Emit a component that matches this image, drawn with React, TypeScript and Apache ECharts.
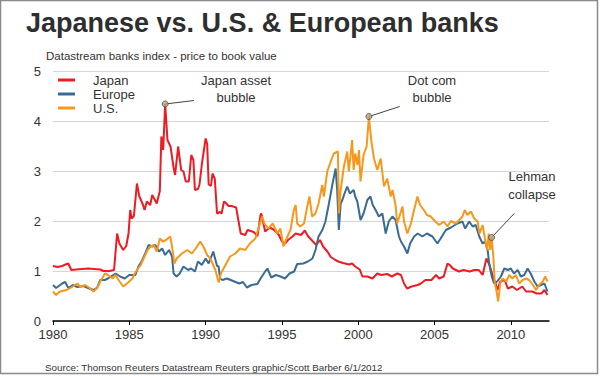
import React, { useEffect, useRef } from "react";
import * as echarts from "echarts";

const seriesNames = ["Japan", "Europe", "U.S."];
const seriesColors = ["#ec1c24", "#3a6b93", "#f7981d"];

const japan: [number, number][] = [
  [1980.0, 1.1], [1980.3, 1.08], [1980.6, 1.1], [1980.9, 1.14], [1981.0, 1.15], [1981.2, 1.02], [1981.5, 1.03],
  [1981.9, 1.04], [1982.3, 1.05], [1982.7, 1.04], [1983.1, 1.03], [1983.3, 1.0], [1983.7, 1.0], [1984.0, 1.02],
  [1984.2, 1.75], [1984.35, 1.55], [1984.6, 1.42], [1984.8, 1.5], [1984.95, 1.75], [1985.06, 2.22], [1985.15, 2.05],
  [1985.3, 2.1], [1985.5, 2.75], [1985.65, 2.5], [1985.9, 2.32], [1986.0, 2.22], [1986.15, 2.39], [1986.37, 2.32],
  [1986.5, 2.52], [1986.8, 2.35], [1987.0, 2.6], [1987.1, 3.69], [1987.22, 3.42], [1987.35, 4.34], [1987.5, 3.62],
  [1987.7, 3.49], [1987.9, 3.07], [1988.0, 2.92], [1988.2, 3.49], [1988.4, 3.02], [1988.55, 2.99], [1988.7, 2.79],
  [1988.9, 2.79], [1989.06, 3.32], [1989.2, 3.22], [1989.3, 2.62], [1989.5, 2.64], [1989.6, 2.73], [1989.76, 3.15],
  [1990.0, 3.65], [1990.1, 3.55], [1990.2, 2.73], [1990.35, 2.7], [1990.45, 2.95], [1990.6, 2.85], [1990.75, 2.15],
  [1990.95, 2.18], [1991.05, 2.15], [1991.2, 2.39], [1991.3, 2.37], [1991.5, 2.3], [1991.7, 2.3], [1992.0, 2.27],
  [1992.3, 1.75], [1992.6, 1.72], [1992.75, 1.82], [1993.15, 1.78], [1993.4, 1.7], [1993.6, 2.12], [1993.65, 2.15],
  [1993.9, 1.79], [1994.2, 1.87], [1994.5, 1.82], [1994.8, 1.72], [1995.0, 1.59], [1995.2, 1.55], [1995.4, 1.62],
  [1995.7, 1.69], [1995.9, 1.75], [1996.25, 1.72], [1996.5, 1.81], [1996.7, 1.7], [1997.0, 1.6], [1997.25, 1.52],
  [1997.5, 1.62], [1997.7, 1.49], [1998.0, 1.38], [1998.2, 1.28], [1998.5, 1.22], [1998.7, 1.19], [1999.0, 1.16],
  [1999.4, 1.13], [1999.6, 1.15], [1999.8, 1.09], [2000.1, 1.03], [2000.27, 0.89], [2000.6, 0.89], [2000.93, 0.85],
  [2001.25, 0.95], [2001.5, 0.92], [2001.9, 0.94], [2002.2, 0.89], [2002.56, 0.95], [2002.8, 0.92], [2003.0, 0.75],
  [2003.2, 0.65], [2003.5, 0.69], [2003.9, 0.72], [2004.1, 0.75], [2004.4, 0.82], [2004.8, 0.82], [2005.1, 0.92],
  [2005.3, 0.85], [2005.6, 0.89], [2005.85, 1.15], [2006.0, 1.12], [2006.2, 1.05], [2006.6, 0.99], [2006.9, 1.02],
  [2007.3, 0.99], [2007.6, 1.02], [2007.9, 1.02], [2008.15, 0.92], [2008.4, 1.25], [2008.6, 1.12], [2008.8, 0.92],
  [2009.0, 0.75], [2009.13, 0.62], [2009.3, 0.79], [2009.6, 0.82], [2009.8, 0.65], [2010.1, 0.69], [2010.4, 0.62],
  [2010.75, 0.69], [2011.0, 0.59], [2011.4, 0.59], [2011.7, 0.55], [2012.0, 0.55], [2012.2, 0.62], [2012.4, 0.52],
];

const europe: [number, number][] = [
  [1980.0, 0.72], [1980.2, 0.66], [1980.6, 0.75], [1980.8, 0.78], [1981.0, 0.66], [1981.3, 0.72], [1981.6, 0.68],
  [1982.0, 0.7], [1982.3, 0.66], [1982.65, 0.62], [1982.9, 0.67], [1983.1, 0.82], [1983.4, 0.82], [1983.6, 0.85],
  [1984.1, 0.95], [1984.4, 0.89], [1984.7, 0.85], [1985.0, 0.92], [1985.4, 0.92], [1985.6, 1.09], [1985.8, 1.19],
  [1986.0, 1.32], [1986.26, 1.52], [1986.5, 1.49], [1986.7, 1.52], [1986.95, 1.39], [1987.15, 1.45], [1987.35, 1.32],
  [1987.6, 1.42], [1987.8, 1.29], [1987.9, 0.95], [1988.1, 0.89], [1988.3, 0.95], [1988.55, 1.09], [1988.85, 1.02],
  [1989.05, 1.05], [1989.3, 0.99], [1989.5, 1.19], [1989.75, 1.12], [1990.0, 1.25], [1990.2, 1.15], [1990.5, 1.39],
  [1990.75, 1.1], [1990.85, 1.09], [1990.95, 0.85], [1991.1, 0.82], [1991.4, 0.85], [1991.8, 0.8], [1992.2, 0.75],
  [1992.45, 0.78], [1992.7, 0.67], [1993.0, 0.72], [1993.4, 0.74], [1993.6, 0.85], [1993.9, 0.99], [1994.05, 1.05],
  [1994.3, 0.87], [1994.6, 0.92], [1994.9, 0.89], [1995.2, 0.85], [1995.5, 0.95], [1995.8, 0.99], [1996.0, 1.14],
  [1996.4, 1.15], [1996.7, 1.19], [1997.0, 1.25], [1997.2, 1.42], [1997.4, 1.69], [1997.65, 1.82], [1997.85, 1.99],
  [1998.08, 2.35], [1998.3, 2.72], [1998.52, 3.05], [1998.62, 2.62], [1998.73, 1.82], [1998.85, 2.35], [1998.96, 2.42],
  [1999.1, 2.55], [1999.28, 2.69], [1999.45, 2.55], [1999.7, 2.62], [1999.8, 2.49], [1999.94, 2.39], [2000.15, 2.02],
  [2000.35, 2.15], [2000.6, 2.42], [2000.8, 2.49], [2000.95, 2.32], [2001.14, 2.22], [2001.35, 2.09], [2001.58, 2.15],
  [2001.8, 1.75], [2002.0, 1.99], [2002.24, 2.09], [2002.45, 2.02], [2002.67, 1.69], [2002.8, 1.59], [2003.0, 1.49],
  [2003.22, 1.35], [2003.4, 1.55], [2003.66, 1.69], [2003.9, 1.75], [2004.2, 1.69], [2004.5, 1.75], [2004.86, 1.69],
  [2005.19, 1.55], [2005.4, 1.65], [2005.74, 1.82], [2006.07, 1.87], [2006.5, 1.95], [2006.83, 1.99], [2007.0, 1.85],
  [2007.27, 1.99], [2007.5, 1.89], [2007.7, 1.92], [2007.93, 1.69], [2008.15, 1.55], [2008.3, 1.59], [2008.48, 1.42],
  [2008.58, 1.15], [2008.75, 0.89], [2008.9, 0.75], [2009.1, 0.79], [2009.35, 0.89], [2009.57, 1.05], [2009.8, 1.02],
  [2010.0, 1.05], [2010.2, 0.95], [2010.45, 1.02], [2010.65, 0.89], [2010.88, 0.92], [2011.1, 1.05], [2011.3, 0.95],
  [2011.54, 0.79], [2011.75, 0.69], [2011.98, 0.72], [2012.2, 0.75], [2012.4, 0.59],
];

const us: [number, number][] = [
  [1980.0, 0.59], [1980.2, 0.52], [1980.45, 0.59], [1980.9, 0.62], [1981.3, 0.69], [1981.6, 0.75], [1981.8, 0.68],
  [1982.1, 0.72], [1982.4, 0.66], [1982.65, 0.59], [1982.9, 0.66], [1983.1, 0.79], [1983.4, 0.95], [1983.6, 0.92],
  [1983.9, 0.85], [1984.1, 0.92], [1984.3, 0.82], [1984.6, 0.69], [1984.85, 0.75], [1985.2, 0.85], [1985.3, 0.92],
  [1985.5, 1.02], [1985.75, 1.12], [1986.0, 1.29], [1986.2, 1.42], [1986.4, 1.49], [1986.6, 1.52], [1986.8, 1.39],
  [1987.0, 1.65], [1987.2, 1.59], [1987.4, 1.62], [1987.68, 1.69], [1987.8, 1.49], [1987.95, 1.15], [1988.1, 1.25],
  [1988.45, 1.35], [1988.8, 1.42], [1989.1, 1.35], [1989.35, 1.45], [1989.65, 1.59], [1989.85, 1.49], [1990.1, 1.32],
  [1990.3, 1.25], [1990.64, 1.02], [1990.86, 0.77], [1991.0, 0.95], [1991.3, 1.12], [1991.6, 1.29], [1991.95, 1.35],
  [1992.25, 1.45], [1992.6, 1.42], [1992.9, 1.55], [1993.26, 1.65], [1993.5, 1.89], [1993.7, 2.09], [1993.85, 1.95],
  [1994.1, 1.85], [1994.4, 1.95], [1994.7, 1.75], [1994.9, 1.85], [1995.1, 1.49], [1995.3, 1.65], [1995.56, 1.82],
  [1995.78, 2.22], [1995.9, 2.32], [1996.0, 1.95], [1996.2, 1.89], [1996.45, 1.95], [1996.66, 2.29], [1996.8, 2.49],
  [1996.98, 2.09], [1997.2, 2.15], [1997.4, 2.35], [1997.64, 2.72], [1997.75, 2.49], [1997.97, 2.99], [1998.2, 3.19],
  [1998.4, 3.35], [1998.67, 3.39], [1998.73, 2.15], [1998.85, 2.62], [1999.06, 3.09], [1999.28, 3.39], [1999.38, 2.99],
  [1999.5, 3.32], [1999.6, 3.62], [1999.7, 3.02], [1999.8, 3.35], [1999.95, 3.12], [2000.05, 3.42], [2000.15, 2.79],
  [2000.35, 3.32], [2000.55, 3.49], [2000.7, 4.09], [2000.85, 3.62], [2001.03, 3.25], [2001.25, 3.02], [2001.47, 3.25],
  [2001.69, 2.69], [2001.9, 2.85], [2002.13, 2.49], [2002.25, 2.62], [2002.46, 2.29], [2002.55, 1.95], [2002.7, 2.09],
  [2002.9, 2.29], [2003.0, 1.99], [2003.22, 1.75], [2003.45, 1.95], [2003.66, 2.22], [2003.88, 2.49], [2004.05, 2.32],
  [2004.3, 2.22], [2004.5, 2.12], [2004.75, 2.09], [2005.05, 1.99], [2005.3, 1.92], [2005.6, 1.99], [2005.85, 1.89],
  [2006.07, 2.0], [2006.4, 1.95], [2006.83, 2.09], [2006.98, 2.22], [2007.15, 2.12], [2007.38, 2.19], [2007.6, 2.05],
  [2007.82, 1.99], [2007.95, 1.75], [2008.15, 1.92], [2008.3, 1.65], [2008.45, 1.42], [2008.55, 1.75], [2008.65, 1.42],
  [2008.74, 1.67], [2008.85, 1.29], [2008.95, 0.75], [2009.05, 0.62], [2009.17, 0.39], [2009.3, 0.75], [2009.46, 0.85],
  [2009.7, 0.79], [2009.9, 0.92], [2010.1, 0.85], [2010.33, 0.92], [2010.55, 0.75], [2010.77, 0.82], [2011.0, 0.85],
  [2011.2, 0.82], [2011.45, 0.72], [2011.65, 0.62], [2011.85, 0.72], [2012.09, 0.79], [2012.25, 0.89], [2012.4, 0.79],
];

const xTicks = [1980, 1985, 1990, 1995, 2000, 2005, 2010];
const yTicks = [0, 1, 2, 3, 4, 5];

// annotated events: point on the line and end of the leader line (data units)
const eventLabels = ["Japan asset\nbubble", "Dot com\nbubble", "Lehman\ncollapse"];
const eventPoints: [number, number][] = [[1987.35, 4.34], [2000.7, 4.09], [2008.74, 1.67]];
const eventLeaderEnds: [number, number][] = [[1989.24, 4.41], [2002.72, 4.29], [2010.22, 2.15]];

const FONT = '"Liberation Sans", Arial, sans-serif';

export default function App() {
  const ref = useRef<HTMLDivElement>(null);
  useEffect(() => {
    if (!ref.current) return;
    const chart = echarts.init(ref.current, undefined, { renderer: "svg" });
    const seriesData = [japan, europe, us];
    const option: any = {
      animation: false,
      backgroundColor: "#ffffff",
      grid: { left: 53, right: 51, top: 71, bottom: 55, containLabel: false },
      legend: {
        data: seriesNames,
        orient: "vertical",
        left: 58,
        top: 73,
        icon: "rect",
        itemWidth: 17,
        itemHeight: 3,
        itemGap: 0,
        padding: 0,
        textStyle: { color: "#333", fontSize: 13, fontFamily: FONT, lineHeight: 14, padding: [0, 0, 0, 13] },
        selectedMode: false,
      },
      xAxis: {
        type: "value",
        min: 1980,
        max: 2012.5,
        interval: 5,
        axisLine: { show: true, onZero: false, lineStyle: { color: "#000", width: 1.5 } },
        axisTick: { show: true, length: 4, customValues: xTicks, lineStyle: { color: "#000", width: 1 } },
        axisLabel: {
          customValues: xTicks,
          color: "#333",
          fontSize: 13,
          fontFamily: FONT,
          margin: 7,
          formatter: (v: number) => String(v),
        },
        splitLine: { show: false },
      },
      yAxis: {
        type: "value",
        min: 0,
        max: 5,
        interval: 1,
        axisLine: { show: false },
        axisTick: { show: false },
        axisLabel: {
          customValues: yTicks,
          color: "#333",
          fontSize: 13,
          fontFamily: FONT,
          margin: 12,
          formatter: (v: number) => String(v),
        },
        splitLine: { show: true, lineStyle: { color: "#d6d6d6", width: 1 } },
      },
      series: [
        ...seriesNames.map((name, i) => ({
          name,
          type: "line",
          data: seriesData[i],
          showSymbol: false,
          symbol: "none",
          lineStyle: { color: seriesColors[i], width: 2 },
          itemStyle: { color: seriesColors[i] },
          z: 2 + i,
        })),
        {
          name: "events",
          type: "scatter",
          data: eventPoints,
          symbol: "circle",
          symbolSize: 6,
          itemStyle: { color: "#b8a27c", borderColor: "#4a4a4a", borderWidth: 1 },
          z: 10,
          silent: true,
          markLine: {
            silent: true,
            symbol: "none",
            label: { show: false },
            lineStyle: { color: "#444", width: 1, type: "solid" },
            data: eventPoints.map((p, i) => [{ coord: p }, { coord: eventLeaderEnds[i] }]),
          },
        },
      ],
      graphic: [
        {
          type: "rect",
          shape: { x: 0.5, y: 0.5, width: 597, height: 373 },
          style: { fill: "none", stroke: "#8a8a8a", lineWidth: 1.5 },
          silent: true,
        },
        {
          type: "text",
          x: 26,
          y: 23,
          style: {
            text: "Japanese vs. U.S. & European banks",
            font: `bold 27px ${FONT}`,
            fill: "#2e2e2e",
            verticalAlign: "middle",
          },
        },
        {
          type: "text",
          x: 46,
          y: 56,
          style: {
            text: "Datastream banks index - price to book value",
            font: `11.5px ${FONT}`,
            fill: "#333",
            verticalAlign: "middle",
          },
        },
        {
          type: "text",
          x: 45,
          y: 367.5,
          style: {
            text: "Source: Thomson Reuters Datastream Reuters graphic/Scott Barber 6/1/2012",
            font: `9.8px ${FONT}`,
            fill: "#333",
            verticalAlign: "middle",
          },
        },
        {
          type: "text",
          x: 236,
          y: 89,
          style: { text: eventLabels[0], font: `13px ${FONT}`, fill: "#333", align: "center", verticalAlign: "middle", lineHeight: 17 },
        },
        {
          type: "text",
          x: 432,
          y: 89,
          style: { text: eventLabels[1], font: `13px ${FONT}`, fill: "#333", align: "center", verticalAlign: "middle", lineHeight: 17 },
        },
        {
          type: "text",
          x: 532,
          y: 185,
          style: { text: eventLabels[2], font: `13px ${FONT}`, fill: "#333", align: "center", verticalAlign: "middle", lineHeight: 18 },
        },
      ],
    };
    chart.setOption(option);
    return () => chart.dispose();
  }, []);
  return (
    <div
      ref={ref}
      style={{ position: "absolute", left: 0, top: 0, width: 600, height: 376, background: "#fff" }}
    />
  );
}
